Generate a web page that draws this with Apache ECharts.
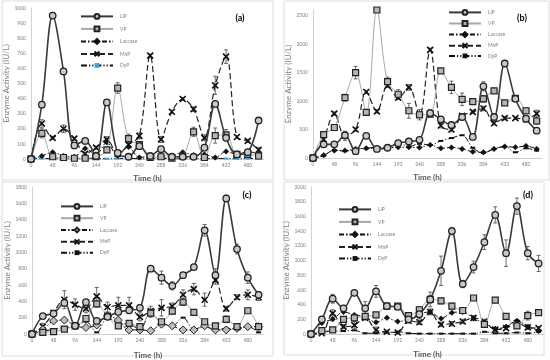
<!DOCTYPE html>
<html><head><meta charset="utf-8">
<script src="https://cdn.jsdelivr.net/npm/echarts@6/dist/echarts.min.js"></script>
<style>html,body{margin:0;padding:0;background:#fff}#c{width:550px;height:360px}</style>
</head><body><div id="c"></div>
<script>
const hours = [0,24,48,72,96,120,144,168,192,216,240,264,288,312,336,360,384,408,432,456,480,504];
const seriesNames = ['LiP','VP','Laccase','MnP','DyP'];
const panelLabels = ['(a)','(b)','(c)','(d)'];

// Panel (a)
const LiP_a = [0,360,950,580,90,120,20,375,40,15,85,20,65,15,15,15,75,365,140,30,45,255];
const VP_a  = [0,170,15,10,5,5,15,60,470,135,95,10,15,5,20,180,10,155,160,30,30,20];
const Lac_a = [0,20,45,20,15,70,30,110,20,80,10,20,20,20,45,25,30,10,50,30,50,30];
const MnP_a = [0,235,140,200,135,35,75,128,35,95,153,685,130,313,397,330,140,488,678,146,120,60];
const DyP_a = [0,4,2,3,2,4,3,2,3,5,2,3,4,2,3,3,2,4,3,2,3,4];
// Panel (b)
const LiP_b = [0,240,240,400,120,390,160,180,260,290,320,790,680,580,720,370,1260,720,1660,1040,690,480];
const VP_b  = [0,410,536,1060,1500,800,2600,1340,1120,830,760,770,1530,1240,1030,990,1040,1180,970,1050,830,650];
const Lac_b = [0,50,130,130,160,170,170,175,190,190,185,230,170,185,160,110,100,160,200,190,210,160];
const MnP_b = [0,330,780,390,500,1160,820,1270,1060,1240,750,1900,570,500,740,810,870,610,700,700,680,780];
const DyP_b = [0,40,140,120,150,170,190,190,270,200,250,230,300,350,400,180,90,160,200,100,170,130];
// Panel (c)
const LiP_c = [0,220,250,380,100,390,160,210,270,290,320,800,690,590,720,820,1270,720,1660,1040,690,480];
const VP_c  = [0,20,30,60,100,190,370,220,100,130,90,255,150,280,390,265,150,100,180,90,285,90];
const Lac_c = [0,55,160,170,100,80,110,220,170,50,50,40,120,100,50,50,100,50,50,70,90,90];
const MnP_c = [0,90,260,420,360,310,460,330,350,350,210,280,320,340,480,550,420,660,310,450,480,450];
const DyP_c = [0,30,60,80,90,150,20,200,130,120,60,260,130,100,200,60,90,50,70,60,90,20];
// Panel (d)
const LiP_d = [0,200,480,350,560,350,580,380,370,200,270,470,860,1400,680,910,1250,1620,1100,1740,1100,960];
const VP_d  = [0,45,55,200,220,240,260,380,380,250,330,470,450,380,320,490,130,460,240,110,250,290];
const Lac_d = [0,150,200,300,260,230,160,220,170,200,270,300,210,290,300,210,150,70,100,180,100,40];
const MnP_d = [0,10,280,100,120,220,55,30,20,180,160,300,130,140,170,220,170,60,80,150,90,80];
const DyP_d = [0,20,40,40,50,10,10,20,30,10,5,5,5,5,5,5,30,10,10,20,10,30];

// Error bar half-widths (± IU/L) for LiP, VP, MnP
const LiP_a_err = [0,15,10,10,10,10,5,10,5,5,10,5,10,5,5,5,10,15,15,5,5,10];
const VP_a_err  = [0,30,5,5,5,5,5,10,35,30,15,5,5,5,5,30,5,50,35,5,5,5];
const MnP_a_err = [0,25,10,25,10,10,10,20,10,20,20,10,20,10,10,15,20,60,45,10,10,15];
const LiP_b_err = [0,30,20,30,20,20,20,20,30,30,40,60,30,30,30,20,80,40,30,30,60,30];
const VP_b_err  = [0,40,30,60,110,30,30,80,80,130,90,40,40,110,110,20,60,30,30,30,50,60];
const MnP_b_err = [0,40,30,80,30,30,30,30,30,50,30,30,40,40,30,30,40,30,30,20,30,60];
const LiP_c_err = [0,30,20,40,20,20,20,30,30,30,40,20,80,50,30,30,70,80,40,60,70,40];
const VP_c_err  = [0,10,10,20,20,30,40,30,30,30,30,50,30,40,40,30,20,20,40,20,30,20];
const MnP_c_err = [0,40,30,110,70,50,110,60,100,100,50,60,100,40,60,70,80,50,30,30,60,40];
const LiP_d_err = [0,20,60,40,30,90,80,40,30,40,60,100,200,50,50,80,100,110,180,110,90,110];
const VP_d_err  = [0,10,10,30,30,30,30,30,30,30,40,50,40,40,30,30,30,30,30,30,60,30];
const MnP_d_err = [0,10,50,30,50,30,40,20,20,30,30,40,30,30,30,30,30,20,20,40,30,20];

const yMax = [1000,2600,1800,2000];
const yInterval = [100,500,200,200];

const panels = [
  [LiP_a,VP_a,Lac_a,MnP_a,DyP_a],
  [LiP_b,VP_b,Lac_b,MnP_b,DyP_b],
  [LiP_c,VP_c,Lac_c,MnP_c,DyP_c],
  [LiP_d,VP_d,Lac_d,MnP_d,DyP_d]
];
const panelErrs = [
  [[0,LiP_a_err],[1,VP_a_err],[3,MnP_a_err]],
  [[0,LiP_b_err],[1,VP_b_err],[3,MnP_b_err]],
  [[0,LiP_c_err],[1,VP_c_err],[3,MnP_c_err]],
  [[0,LiP_d_err],[1,VP_d_err],[3,MnP_d_err]]
];

const FONT = 'Lato, "Noto Sans", sans-serif';
const grids = [
  {left:31, top:8, width:233, height:151},
  {left:313, top:10, width:229, height:148},
  {left:32, top:187, width:232, height:147},
  {left:311, top:187, width:233, height:147}
];
const legendPos = [
  {left:80, top:13, itemGap:5.7},
  {left:448, top:9, itemGap:4.3},
  {left:60, top:203, itemGap:5},
  {left:338, top:206, itemGap:5.7}
];
const labelPos = [[240,18],[522,18],[247,195],[528,195]];
const yNameGap = [16,21,16,19];
const xNameGap = [15,15,17,16];

const Xpath = 'path://M0,0L10,10M10,0L0,10';
function styleFor(k, p) {
  switch(k){
    case 0: return {lineStyle:{color:'#3a3a3a',width:1.6,type:'solid'}, symbol:'circle', symbolSize:6.5,
      itemStyle:{color:'#c8c8c8',borderColor:'#222',borderWidth:1.3}};
    case 1: return {lineStyle:{color:'#a8a8a8',width:1,type:'solid'}, symbol:'rect', symbolSize:6,
      itemStyle:{color:'#b5b5b5',borderColor:'#222',borderWidth:1.2}};
    case 2: return {lineStyle:{color:'#111',width:1,type:[5,2,1.5,2]}, symbol:'diamond', symbolSize: p===2?8:5.5,
      itemStyle: p===2?{color:'#bbb',borderColor:'#222',borderWidth:1}:{color:'#111',borderColor:'#111',borderWidth:0.5}};
    case 3: return {lineStyle:{color:'#222',width:1.2,type:[6,3]}, symbol:Xpath, symbolSize:6,
      itemStyle:{color:'#222',borderColor:'#111',borderWidth:1.6}};
    case 4: return {lineStyle:{color:'#111',width:1,type:[6,2,1.2,2,1.2,2]}, symbol:'rect', symbolSize:[5,2],
      itemStyle:{color:p===0?'#3aa3e0':'#111',borderWidth:0}};
  }
}

function renderErr(params, api) {
  const x = api.value(0), y = api.value(1), e = api.value(2);
  const top = api.coord([x, y + e]);
  const bot = api.coord([x, Math.max(0, y - e)]);
  const cw = 2;
  const st = {stroke:'#444', lineWidth:0.8};
  return {type:'group', children:[
    {type:'line', shape:{x1:top[0],y1:top[1],x2:bot[0],y2:bot[1]}, style:st},
    {type:'line', shape:{x1:top[0]-cw,y1:top[1],x2:top[0]+cw,y2:top[1]}, style:st},
    {type:'line', shape:{x1:bot[0]-cw,y1:bot[1],x2:bot[0]+cw,y2:bot[1]}, style:st}
  ]};
}

const series = [];
const legends = [];
const suffix = ['_a','_b','_c','_d'];
panels.forEach((arrs, p) => {
  const names = [];
  panelErrs[p].forEach(([k, err]) => {
    const vals = arrs[k];
    series.push({
      type:'custom', coordinateSystem:'cartesian2d', xAxisIndex:p, yAxisIndex:p,
      renderItem: renderErr, silent:true, z:1, clip:false,
      encode:{x:0, y:1},
      data: hours.map((h,i)=>[h, vals[i], err[i]]).filter(d=>d[2]>0 && d[0]>0)
    });
  });
  arrs.forEach((vals, k) => {
    const nm = seriesNames[k] + suffix[p];
    names.push(nm);
    const st = styleFor(k, p);
    series.push(Object.assign({
      name:nm, type:'line', xAxisIndex:p, yAxisIndex:p,
      smooth:0.35, showAllSymbol:true, z: 10-k, clip:false,
      data: hours.map((h,i)=>[h, vals[i]]),
      emphasis:{disabled:true}, animation:false
    }, st));
  });
  legends.push(Object.assign({
    orient:'vertical', data:names, itemWidth:32, itemHeight:6,
    formatter: n => n.split('_')[0],
    textStyle:{fontSize:5, color:'#808080', fontFamily:FONT, padding:[0,0,0,2]},
    padding:0, selectedMode:false
  }, legendPos[p]));
});

const xAxes = grids.map((g,p)=>({
  type:'value', gridIndex:p, min:0, max:516, interval:48,
  name:'Time (h)', nameLocation:'middle', nameGap:xNameGap[p],
  nameTextStyle:{fontSize:8, fontWeight:'bold', color:'#595959', fontFamily:FONT},
  axisLine:{show:true, lineStyle:{color:'#d0d0d0', width:1}},
  axisTick:{show:false}, splitLine:{show:false},
  axisLabel:{fontSize:5, color:'#808080', margin:4, showMaxLabel:false, fontFamily:FONT}
}));
const yAxes = grids.map((g,p)=>({
  type:'value', gridIndex:p, min:0, max:yMax[p], interval:yInterval[p],
  name:'Enzyme Activity (IU/L)', nameLocation:'middle', nameGap:yNameGap[p],
  nameTextStyle:{fontSize:8, color:'#7f7f7f', fontFamily:FONT},
  axisLine:{show:true, lineStyle:{color:'#d0d0d0', width:1}},
  axisTick:{show:false}, splitLine:{show:false},
  axisLabel:{fontSize:5, color:'#808080', margin:5, fontFamily:FONT, showMaxLabel: p!==1,
    formatter: v => String(v)}
}));

const graphic = [
  {type:'rect', shape:{x:2,y:1,width:271,height:179}, style:{fill:'none',stroke:'#dcdcdc',lineWidth:1}, silent:true},
  {type:'rect', shape:{x:284,y:1,width:265,height:179}, style:{fill:'none',stroke:'#dcdcdc',lineWidth:1}, silent:true},
  {type:'rect', shape:{x:2,y:182,width:271,height:174}, style:{fill:'none',stroke:'#dcdcdc',lineWidth:1}, silent:true},
  {type:'rect', shape:{x:284,y:182,width:260,height:173}, style:{fill:'none',stroke:'#dcdcdc',lineWidth:1}, silent:true}
];
panelLabels.forEach((t,p)=>graphic.push({type:'text', x:labelPos[p][0], y:labelPos[p][1],
  style:{text:t, fontSize:9, fontWeight:'bold', fill:'#000', fontFamily:FONT, align:'center', verticalAlign:'middle'}, silent:true}));

const chart = echarts.init(document.getElementById('c'), null, {renderer:'canvas'});
chart.setOption({
  backgroundColor:'#fff', animation:false,
  grid: grids, xAxis: xAxes, yAxis: yAxes, legend: legends, series: series, graphic: graphic
});
</script></body></html>
